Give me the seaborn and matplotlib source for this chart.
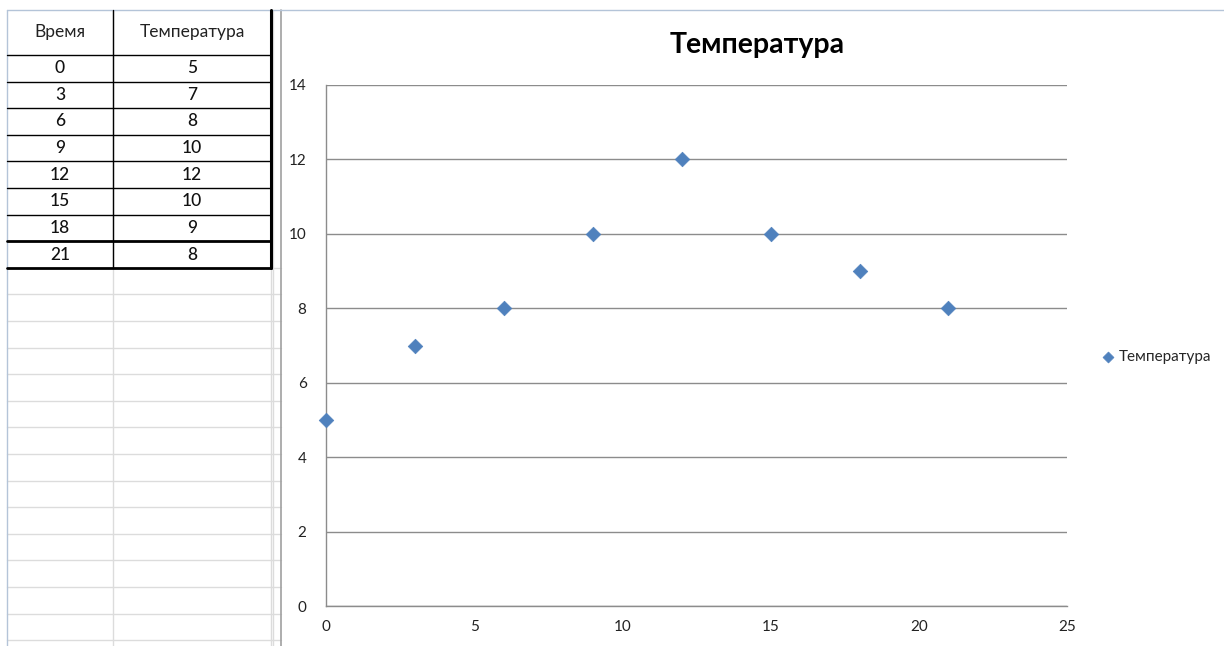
import matplotlib
matplotlib.use("Agg")
import matplotlib.pyplot as plt
import seaborn as sns
import pandas as pd

# data from the sheet
time_h = [0, 3, 6, 9, 12, 15, 18, 21]
temp = [5, 7, 8, 10, 12, 10, 9, 8]
col_names = ["Время", "Температура"]
chart_title = "Температура"
x_ticks = [0, 5, 10, 15, 20, 25]
y_ticks = [0, 2, 4, 6, 8, 10, 12, 14]

df = pd.DataFrame({col_names[0]: time_h, col_names[1]: temp})

sns.set_style("white")
plt.rcParams['font.family'] = ['Lato', 'DejaVu Sans']

W, H = 1224, 646
fig = plt.figure(figsize=(W / 100, H / 100), dpi=100)

# =========================
# background sheet (table + cell grid)
# =========================
bg = fig.add_axes([0, 0, 1, 1])
bg.set_xlim(0, W)
bg.set_ylim(H, 0)
bg.axis("off")

col_x = [7, 113, 271]
row_h = 26.6
header_top, header_bot = 10, 55
n_rows = len(time_h)

# light empty-cell grid below the table
y = header_bot + row_h * n_rows
while y < H:
    bg.plot([col_x[0], 281], [y, y], color="#dcdcdc", lw=1)
    y += row_h
for x in [col_x[1], col_x[2], 273]:
    bg.plot([x, x], [header_top, H], color="#dcdcdc", lw=1)
bg.plot([col_x[0], col_x[0]], [header_top, H], color="#b4c4d8", lw=1)
bg.plot([281, 281], [header_top, H], color="#a0a0a0", lw=1.2)
bg.plot([col_x[0], W], [header_top, header_top], color="#b4c4d8", lw=1)

# table borders
table_bot = header_bot + row_h * n_rows
for i in range(n_rows + 1):
    yy = header_bot + row_h * i
    lw = 2 if i in (n_rows - 1, n_rows) else 1
    bg.plot([col_x[0], col_x[2]], [yy, yy], color="black", lw=lw)
bg.plot([col_x[1], col_x[1]], [header_top, table_bot], color="black", lw=1)
bg.plot([col_x[2], col_x[2]], [header_top, table_bot], color="black", lw=2.2)

cx = [(col_x[0] + col_x[1]) / 2, (col_x[1] + col_x[2]) / 2]
for j, name in enumerate(col_names):
    bg.text(cx[j], (header_top + header_bot) / 2, name, ha="center", va="center",
            fontsize=12.5, color="#222222")
for i, (t, v) in enumerate(zip(time_h, temp)):
    yc = header_bot + row_h * (i + 0.5)
    bg.text(cx[0], yc, str(t), ha="center", va="center", fontsize=12.5,
            fontweight="medium", color="#111111")
    bg.text(cx[1], yc, str(v), ha="center", va="center", fontsize=12.5,
            fontweight="medium", color="#111111")

# =========================
# scatter chart
# =========================
ax = fig.add_axes([326 / W, 1 - 606 / H, (1067 - 326) / W, (606 - 85) / H])
ax.patch.set_alpha(0)
sns.scatterplot(data=df, x=col_names[0], y=col_names[1], marker="D", s=55,
                color="#4F81BD", edgecolor="#4F81BD", linewidth=0.5,
                label=chart_title, ax=ax, zorder=3, clip_on=False)

ax.set_xlim(0, 25)
ax.set_ylim(0, 14)
ax.set_xticks(x_ticks)
ax.set_yticks(y_ticks)
ax.set_xlabel("")
ax.set_ylabel("")
ax.grid(axis="y", color="#8c8c8c", lw=1)
ax.set_axisbelow(True)
for side in ["top", "right"]:
    ax.spines[side].set_visible(False)
for side in ["left", "bottom"]:
    ax.spines[side].set_color("#8c8c8c")
    ax.spines[side].set_linewidth(1)
ax.tick_params(axis="both", direction="out", length=5, width=1, color="#8c8c8c",
               labelsize=11, labelcolor="#222222", pad=5)
ax.tick_params(axis="y", pad=9)

fig.text(757 / W, 1 - 45 / H, chart_title, ha="center", va="center",
         fontsize=20.5, fontweight="bold", color="black")

ax.legend(loc="center left", bbox_to_anchor=(1085 / W, 1 - 357 / H),
          bbox_transform=fig.transFigure, frameon=False, fontsize=11,
          handletextpad=-0.3, borderpad=0, markerscale=0.75)

plt.savefig("out.png", dpi=100)
